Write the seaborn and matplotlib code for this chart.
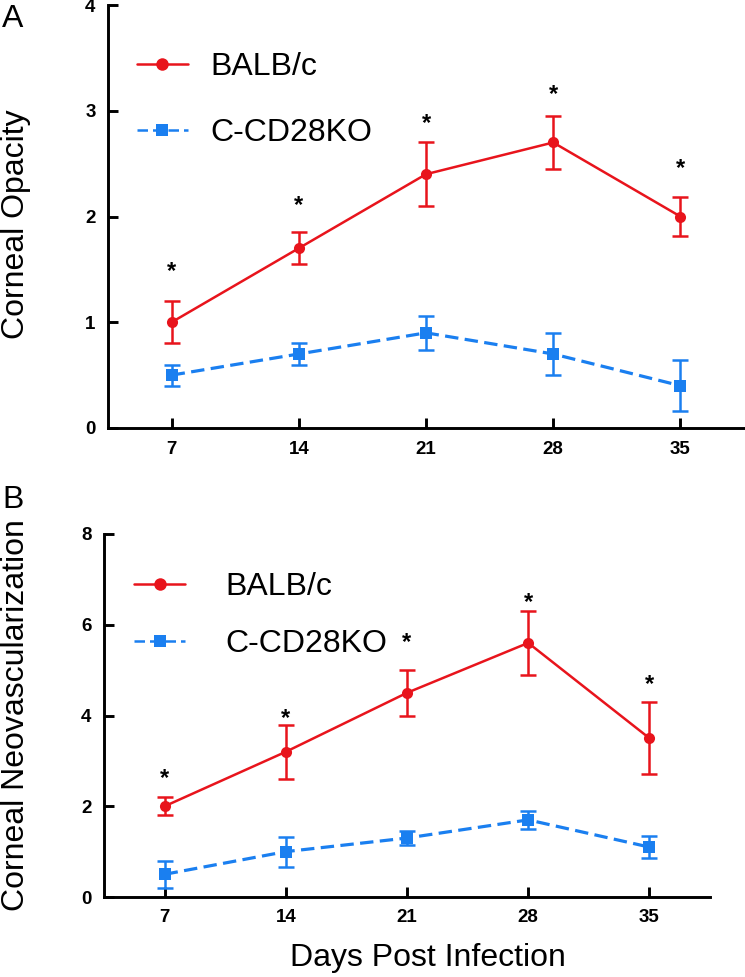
import matplotlib
matplotlib.use("Agg")
import matplotlib.pyplot as plt
import seaborn as sns
import pandas as pd
import numpy as np

sns.set_theme(style="ticks")
plt.rcParams['font.family'] = ['Liberation Sans', 'DejaVu Sans']
plt.rcParams['text.color'] = 'black'
plt.rcParams['axes.labelcolor'] = 'black'
plt.rcParams['xtick.color'] = 'black'
plt.rcParams['ytick.color'] = 'black'
plt.rcParams['axes.edgecolor'] = 'black'

days = [7, 14, 21, 28, 35]
groups = ["BALB/c", "C-CD28KO"]

# Panel A: corneal opacity
opac_balb = [1.0, 1.7, 2.4, 2.7, 2.0]
opac_balb_err = [0.2, 0.15, 0.3, 0.25, 0.18]
opac_ko = [0.5, 0.7, 0.9, 0.7, 0.4]
opac_ko_err = [0.1, 0.1, 0.16, 0.2, 0.24]
opac_star = [1.48, 2.1, 2.88, 3.15, 2.45]

# Panel B: corneal neovascularization
neo_balb = [2.0, 3.2, 4.5, 5.6, 3.5]
neo_balb_err = [0.2, 0.6, 0.5, 0.7, 0.8]
neo_ko = [0.5, 1.0, 1.3, 1.7, 1.1]
neo_ko_err = [0.3, 0.33, 0.16, 0.2, 0.24]
neo_star = [2.62, 3.93, 5.6, 6.5, 4.68]

RED = "#e8141c"
BLUE = "#1a7ff0"
palette = {"BALB/c": RED, "C-CD28KO": BLUE}

fig = plt.figure(figsize=(7.45, 9.77), dpi=100)
axA = fig.add_axes([108/745, (977-428)/977, 636/745, 423/977])
axB = fig.add_axes([104/745, (977-897)/977, 606/745, 363/977])


def draw(ax, balb, balb_err, ko, ko_err, stars, ymax, yticks,
         leg_anchor, textpad, spacing):
    df = pd.DataFrame({
        "day": days * 2,
        "value": list(balb) + list(ko),
        "group": [groups[0]] * len(days) + [groups[1]] * len(days),
    })
    sns.lineplot(data=df, x="day", y="value", hue="group", style="group",
                 palette=palette, markers={"BALB/c": "o", "C-CD28KO": "s"},
                 dashes={"BALB/c": "", "C-CD28KO": (4.2, 2.0)},
                 markersize=8, markeredgewidth=0, linewidth=1.8, ax=ax,
                 legend=True)
    # thicker dashed line for the knockout group
    ax.lines[1].set_linewidth(2.3)
    for vals, errs, col in [(balb, balb_err, RED), (ko, ko_err, BLUE)]:
        ax.errorbar(days, vals, yerr=errs, fmt="none", ecolor=col,
                    elinewidth=1.8, capsize=5.5, capthick=1.8, zorder=1)
    for d, s in zip(days, stars):
        ax.text(d, s, "*", ha="center", va="center", fontsize=17,
                fontweight="bold", color="black")
    ax.set_xlim(3.5, 38.5)
    ax.set_ylim(0, ymax)
    ax.set_xticks(days)
    ax.set_xticklabels([str(d) for d in days])
    ax.set_yticks(yticks)
    ax.set_yticklabels([str(t) for t in yticks])
    ax.tick_params(axis="both", direction="in", length=7, width=2.1,
                   labelsize=13.5, pad=9)
    for lab in ax.get_xticklabels() + ax.get_yticklabels():
        lab.set_fontweight("bold")
    sns.despine(ax=ax)
    ax.spines["left"].set_linewidth(2.1)
    ax.spines["bottom"].set_linewidth(2.1)
    ax.set_xlabel("")
    ax.set_ylabel("")
    handles, labels = ax.get_legend_handles_labels()
    leg = ax.legend(handles=handles, labels=labels, loc="upper left",
                    bbox_to_anchor=leg_anchor, frameon=False, fontsize=23,
                    handlelength=1.6, handletextpad=textpad,
                    labelspacing=spacing, borderaxespad=0, borderpad=0)
    for h in leg.legend_handles:
        h.set_markersize(9)


draw(axA, opac_balb, opac_balb_err, opac_ko, opac_ko_err, opac_star,
     4, [0, 1, 2, 3, 4], (0.045, 0.888), 0.7, 1.12)
draw(axB, neo_balb, neo_balb_err, neo_ko, neo_ko_err, neo_star,
     8, [0, 2, 4, 6, 8], (0.05, 0.895), 1.25, 0.85)

fig.text(16/745, 1 - 224/977, "Corneal Opacity", fontsize=23,
         rotation=90, ha="center", va="center")
fig.text(16/745, 1 - 715/977, "Corneal Neovascularization", fontsize=23,
         rotation=90, ha="center", va="center")
fig.text(428/745, 1 - 958/977, "Days Post Infection", fontsize=23,
         ha="center", va="center")

fig.text(2/745, 1 - 27/977, "A", fontsize=23, ha="left", va="baseline")
fig.text(2/745, 1 - 508/977, "B", fontsize=23, ha="left", va="baseline")

fig.savefig("out.png", dpi=100)
